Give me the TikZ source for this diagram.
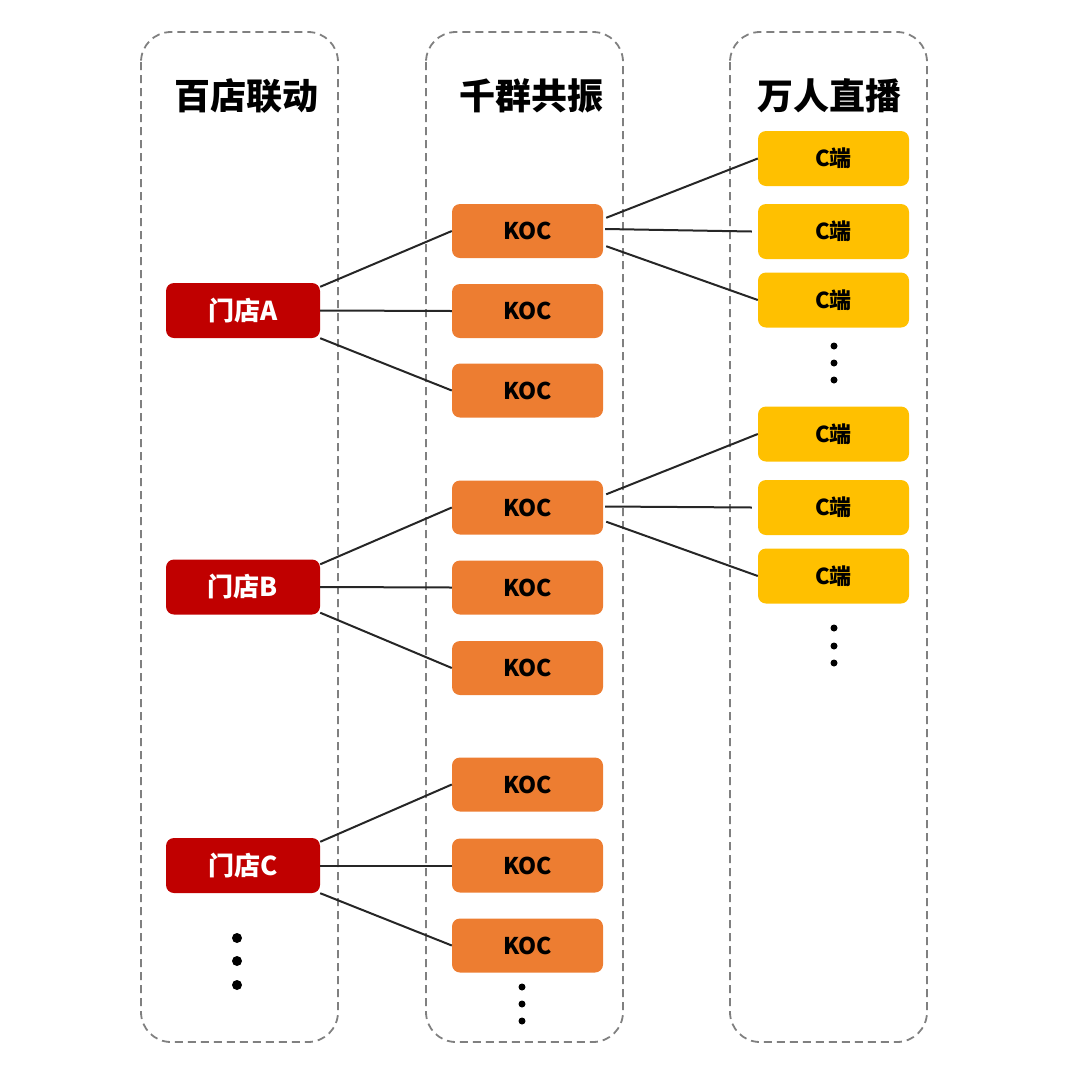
\documentclass[tikz,border=0pt]{standalone}
\usepackage{fontspec}
\setmainfont{Noto Sans CJK SC}
\usepackage{xcolor}
\definecolor{storered}{HTML}{C00000}
\definecolor{kocorange}{HTML}{ED7D31}
\definecolor{cgold}{HTML}{FFC000}
\definecolor{lanegray}{HTML}{808080}

\begin{document}
\begin{tikzpicture}[x=1pt, y=-1pt,
  lane/.style={draw=lanegray, line width=1.8pt, dash pattern=on 8pt off 5pt, rounded corners=30pt},
  title/.style={font=\bfseries\fontsize{36}{42}\selectfont},
  store/.style={fill=storered, text=white, rounded corners=8pt, minimum width=154pt, minimum height=55pt, font=\bfseries\fontsize{26}{30}\selectfont},
  koc/.style={fill=kocorange, rounded corners=8pt, minimum width=151pt, minimum height=54pt, font=\bfseries\fontsize{23}{28}\selectfont},
  cend/.style={fill=cgold, rounded corners=8pt, minimum width=151pt, minimum height=55pt, font=\bfseries\fontsize{22}{26}\selectfont},
  link/.style={line width=2pt, black!85}]
\useasboundingbox (0, 0) rectangle (1080, 1077);
\draw [lane] (141, 32) rectangle (338, 1042);
\draw [lane] (426, 32) rectangle (623, 1042);
\draw [lane] (730, 32) rectangle (927, 1042);
\node [title] (t1) at (246, 96) {百店联动};
\node [title] (t2) at (531, 96) {千群共振};
\node [title] (t3) at (829, 96) {万人直播};
\node [store] (sa) at (243, 310.5) {门店A};
\node [store] (sb) at (243, 587) {门店B};
\node [store] (sc) at (243, 865.5) {门店C};
\node [koc] (k1) at (527.5, 231) {KOC};
\node [koc] (k2) at (527.5, 311) {KOC};
\node [koc] (k3) at (527.5, 390.5) {KOC};
\node [koc] (k4) at (527.5, 507.5) {KOC};
\node [koc] (k5) at (527.5, 587.5) {KOC};
\node [koc] (k6) at (527.5, 668) {KOC};
\node [koc] (k7) at (527.5, 784.5) {KOC};
\node [koc] (k8) at (527.5, 865.5) {KOC};
\node [koc] (k9) at (527.5, 945.5) {KOC};
\node [cend] (c1) at (833.5, 158.5) {C端};
\node [cend] (c2) at (833.5, 231.5) {C端};
\node [cend] (c3) at (833.5, 300) {C端};
\node [cend] (c4) at (833.5, 434) {C端};
\node [cend] (c5) at (833.5, 507.5) {C端};
\node [cend] (c6) at (833.5, 576) {C端};
% stores to KOC
\draw [link] ([yshift=-4pt]sa.north east) -- (k1.west);
\draw [link] (sa.east) -- (k2.west);
\draw [link] (sa.south east) -- (k3.west);
\draw [link] ([yshift=-5pt]sb.north east) -- (k4.west);
\draw [link] (sb.east) -- (k5.west);
\draw [link] ([yshift=2pt]sb.south east) -- (k6.west);
\draw [link] ([yshift=-4pt]sc.north east) -- (k7.west);
\draw [link] (sc.east) -- (k8.west);
\draw [link] (sc.south east) -- (k9.west);
% KOC to C
\draw [link] ([xshift=3pt, yshift=-14pt]k1.north east) -- (c1.west);
\draw [link] ([xshift=2pt, yshift=2pt]k1.east) -- ([xshift=-6pt]c2.west);
\draw [link] ([xshift=3pt, yshift=12pt]k1.south east) -- (c3.west);
\draw [link] ([xshift=3pt, yshift=-14pt]k4.north east) -- (c4.west);
\draw [link] ([xshift=2pt, yshift=1pt]k4.east) -- ([xshift=-6pt]c5.west);
\draw [link] ([xshift=3pt, yshift=13pt]k4.south east) -- (c6.west);
% dots
\fill (834, 346) circle (3.5) (834, 363) circle (3.5) (834, 380) circle (3.5);
\fill (834, 628) circle (3.5) (834, 646) circle (3.5) (834, 663) circle (3.5);
\fill (522, 987) circle (3.5) (522, 1004) circle (3.5) (522, 1021) circle (3.5);
\fill (237, 938) circle (5) (237, 961) circle (5) (237, 985) circle (5);
\end{tikzpicture}
\end{document}
